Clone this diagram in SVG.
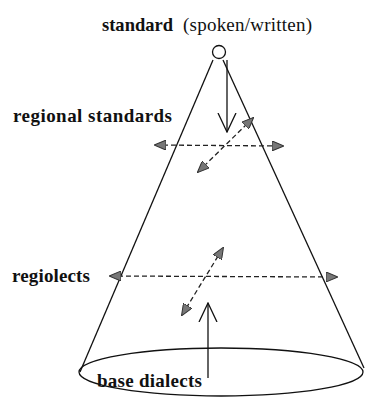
<svg xmlns="http://www.w3.org/2000/svg" width="365" height="398" viewBox="0 0 365 398">
<style>
.lbl{font-family:"Liberation Serif","Times New Roman",serif;font-size:19px;fill:#111}
.b{font-weight:bold}
.ln{fill:none;stroke:#111;stroke-width:1.3}
.dash{fill:none;stroke:#222;stroke-width:1.3;stroke-dasharray:5 3}
</style>
<defs>
<marker id="tri" viewBox="0 0 12 10" refX="11" refY="5" markerWidth="12" markerHeight="10" markerUnits="userSpaceOnUse" orient="auto-start-reverse">
<path d="M0,0 L12,5 L0,10 Z" fill="#777" stroke="#333" stroke-width="1"/>
</marker>
<marker id="open" viewBox="0 0 20 20" refX="19" refY="10" markerWidth="20" markerHeight="20" markerUnits="userSpaceOnUse" orient="auto">
<path d="M0,1 L19,10 L0,19" fill="none" stroke="#111" stroke-width="1.3"/>
</marker>
</defs>
<rect width="365" height="398" fill="#fff"/>
<g id="cone">
<path class="ln" d="M213,60 L80,372"/>
<path class="ln" d="M223,60 L364,368"/>
</g>
<g id="standard">
<circle cx="219" cy="52" r="6.5" fill="#fff" stroke="#111" stroke-width="1.3"/>
<text class="lbl b" x="102" y="31" textLength="71" lengthAdjust="spacingAndGlyphs">standard</text>
<text class="lbl" x="183" y="31" textLength="129" lengthAdjust="spacing">(spoken/written)</text>
</g>
<g id="regional-standards">
<text class="lbl b" x="13" y="122" textLength="159" lengthAdjust="spacing">regional standards</text>
</g>
<g id="regiolects">
<text class="lbl b" x="12" y="282" textLength="78" lengthAdjust="spacing">regiolects</text>
</g>
<g id="base-dialects">
<ellipse class="ln" cx="221" cy="372" rx="142" ry="24"/>
<text class="lbl b" x="97" y="387" textLength="105" lengthAdjust="spacing">base dialects</text>
</g>
<g id="connectors">
<path class="ln" d="M227,60 L227,132" marker-end="url(#open)"/>
<path class="ln" d="M208,378 L208,303" marker-end="url(#open)"/>
<path class="dash" d="M155,145 L283,146" marker-start="url(#tri)" marker-end="url(#tri)"/>
<path class="dash" d="M198,172 L253,118" marker-start="url(#tri)" marker-end="url(#tri)"/>
<path class="dash" d="M110,276 L337,277" marker-start="url(#tri)" marker-end="url(#tri)"/>
<path class="dash" d="M182,315 L223,248" marker-start="url(#tri)" marker-end="url(#tri)"/>
</g>
</svg>
